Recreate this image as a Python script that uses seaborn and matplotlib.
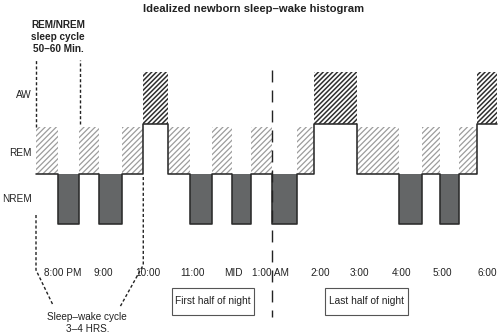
import matplotlib
matplotlib.use("Agg")
import matplotlib.pyplot as plt
from matplotlib.patches import Rectangle
import seaborn as sns
import pandas as pd

# ---- data ----
states = ['REM', 'NREM', 'REM', 'NREM', 'REM', 'AW', 'REM', 'NREM', 'REM', 'NREM',
          'REM', 'NREM', 'REM', 'AW', 'REM', 'NREM', 'REM', 'NREM', 'REM', 'AW']
# segment boundaries, hours after 8:00 PM
bounds = [-0.58, -0.06, 0.44, 0.91, 1.44, 1.95, 2.53, 3.05, 3.56, 4.05, 4.49,
          4.99, 5.58, 5.98, 6.98, 7.99, 8.52, 8.95, 9.40, 9.83, 10.30]
state_names = ['NREM', 'REM', 'AW']
state_levels = [0, 1, 2]
state_label_pos = [0.5, 1.42, 2.58]
tick_pos = [0.05, 1.0, 2.06, 3.1, 4.07, 4.96, 6.12, 7.06, 8.05, 9.0, 10.06]
tick_labels = ['8:00 PM', '9:00', '10:00', '11:00', 'MID', '1:00 AM',
               '2:00', '3:00', '4:00', '5:00', '6:00']
rem_hatch_height = 0.94
aw_hatch_height = 1.04
title = 'Idealized newborn sleep\u2013wake histogram'
cycle_label = 'REM/NREM\nsleep cycle\n50\u201360 Min.'
sw_label = 'Sleep\u2013wake cycle\n3\u20134 HRS.'
half_labels = ['First half of night', 'Last half of night']
half_spans = [(2.63, 4.56), (6.24, 8.19)]

sns.set_theme(style='white')
plt.rcParams['font.family'] = ['Liberation Sans', 'DejaVu Sans']

fig = plt.figure(figsize=(5, 3.36), dpi=100)
ax = fig.add_axes([0, 0, 1, 1])

level_of = dict(zip(state_names, state_levels))
lev = [level_of[s] for s in states]

# hatched / filled boxes
for i, s in enumerate(states):
    x0, x1 = bounds[i], bounds[i + 1]
    if s == 'NREM':
        ax.bar(x0, 1, width=x1 - x0, bottom=0, align='edge', color='#646667',
               linewidth=0, zorder=2)
    elif s == 'REM':
        with plt.rc_context({'hatch.linewidth': 0.9}):
            ax.bar(x0, rem_hatch_height, width=x1 - x0, bottom=1, align='edge',
                   facecolor='white', edgecolor='#9c9c9c', hatch='//////',
                   linewidth=0, zorder=2)
    else:
        with plt.rc_context({'hatch.linewidth': 1.1}):
            ax.bar(x0, aw_hatch_height, width=x1 - x0, bottom=2, align='edge',
                   facecolor='white', edgecolor='#2e2e2e', hatch='///////',
                   linewidth=0, zorder=2)

# hypnogram step line
df = pd.DataFrame({'t': bounds, 'level': lev + [lev[-1]]})
sns.lineplot(data=df, x='t', y='level', drawstyle='steps-post', estimator=None,
             sort=False, color='#2a2a2a', linewidth=1.15, ax=ax, zorder=4)
ax.set_xlim(-1.429, 10.363)
ax.set_ylim(-2.24, 4.48)
ax.axis('off')

# state labels
for name, y in zip(state_names, state_label_pos):
    ax.text(-0.675, y, name, ha='right', va='center', fontsize=7.2, color='#222222')

# time labels
for x, lab in zip(tick_pos, tick_labels):
    ax.text(x, -0.98, lab, ha='center', va='center', fontsize=7.2, color='#222222')

# title & annotations
ax.text(4.54, 4.30, title, ha='center', va='center', fontsize=8.1,
        fontweight='bold', color='#222222')
ax.text(-0.06, 3.74, cycle_label, ha='center', va='center', fontsize=7.2,
        fontweight='bold', color='#222222', linespacing=1.25)
ax.text(0.63, -1.98, sw_label, ha='center', va='center', fontsize=7.2,
        color='#222222', linespacing=1.2)

dot = dict(color='#222222', linewidth=1.0, dashes=(2.2, 1.6), zorder=5)
# REM/NREM cycle markers
ax.plot([bounds[0], bounds[0]], [1.94, 3.28], **dot)
ax.plot([bounds[2] + 0.02, bounds[2] + 0.02], [2.0, 3.28], **dot)
# sleep-wake cycle markers
ax.plot([bounds[0], bounds[0], -0.18], [0.18, -0.92, -1.62], **dot)
ax.plot([bounds[5], bounds[5], 1.40], [0.94, -0.82, -1.66], **dot)

# 1:00 AM divider
ax.plot([bounds[11], bounds[11]], [3.08, -1.86], color='#222222', linewidth=1.0,
        dashes=(8.6, 5.8), zorder=5)

# half-of-night boxes
for (x0, x1), lab in zip(half_spans, half_labels):
    ax.add_patch(Rectangle((x0, -1.82), x1 - x0, 0.54, facecolor='white',
                           edgecolor='#555555', linewidth=0.8, zorder=3))
    ax.text((x0 + x1) / 2, -1.55, lab, ha='center', va='center', fontsize=7.3,
            color='#222222', zorder=4)

fig.savefig('out.png', dpi=100)
